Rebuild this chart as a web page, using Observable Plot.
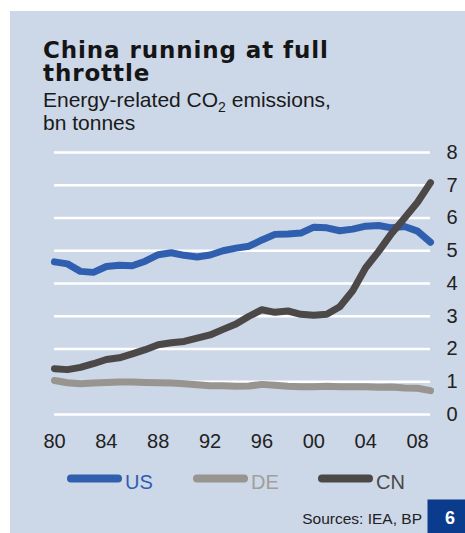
<!DOCTYPE html>
<html>
<head>
<meta charset="utf-8">
<script src="https://cdn.jsdelivr.net/npm/d3@7"></script>
<script src="https://cdn.jsdelivr.net/npm/@observablehq/plot@0.6"></script>
<style>
  html, body { margin: 0; padding: 0; background: #ffffff; }
  #wrap { position: relative; width: 465px; height: 533px; overflow: hidden; }
  #bg { position: absolute; left: 0; top: 0; }
  #title { position: absolute; left: 43px; top: 39.3px; width: 330px;
    font-family: 'DejaVu Sans', sans-serif; font-weight: bold; font-size: 23px;
    letter-spacing: 0.9px; line-height: 22.5px; color: #151515; margin: 0; }
  #chart { position: absolute; left: 10px; top: 140px; }
</style>
</head>
<body>
<div id="wrap">
  <div id="bg"></div>
  <div id="title"></div>
  <div id="chart"></div>
</div>
<script>
// ---- data ----
const years = [1980,1981,1982,1983,1984,1985,1986,1987,1988,1989,
               1990,1991,1992,1993,1994,1995,1996,1997,1998,1999,
               2000,2001,2002,2003,2004,2005,2006,2007,2008,2009];
const usValues = [4.66,4.60,4.37,4.34,4.52,4.56,4.54,4.68,4.88,4.94,
                  4.86,4.81,4.87,5.00,5.08,5.14,5.33,5.50,5.51,5.54,
                  5.72,5.70,5.61,5.66,5.75,5.77,5.70,5.74,5.60,5.26];
const deValues = [1.04,0.97,0.94,0.96,0.98,0.99,0.99,0.98,0.97,0.96,
                  0.94,0.91,0.88,0.88,0.86,0.87,0.92,0.89,0.86,0.85,
                  0.85,0.86,0.85,0.85,0.85,0.83,0.84,0.81,0.80,0.73];
const cnValues = [1.40,1.37,1.44,1.55,1.68,1.73,1.85,1.98,2.13,2.19,
                  2.23,2.33,2.43,2.60,2.76,3.00,3.20,3.12,3.16,3.06,
                  3.03,3.06,3.29,3.78,4.48,4.98,5.53,6.00,6.48,7.08];
const seriesNames = ["US", "DE", "CN"];
const seriesColors = ["#2f5fae", "#98948f", "#4b4847"];
const yTicks = [0,1,2,3,4,5,6,7,8];
const xTicks = [1980,1984,1988,1992,1996,2000,2004,2008];
const titleText = "China running at full throttle";
const subtitleA = "Energy-related CO";
const subtitleSub = "2";
const subtitleB = " emissions,";
const subtitleLine2 = "bn tonnes";
const sourceText = "Sources: IEA, BP";
const pageNumber = "6";

const rowsFor = vals => years.map((y, i) => ({year: y, value: vals[i]}));
const usRows = rowsFor(usValues);
const deRows = rowsFor(deValues);
const cnRows = rowsFor(cnValues);

// ---- background, titles, legend, source ----
const W = 465, H = 533;
const svg = d3.select("#bg").append("svg").attr("width", W).attr("height", H);
svg.append("rect").attr("x", 10).attr("y", 11).attr("width", W - 10).attr("height", H - 11).attr("fill", "#ccd7e8");

document.getElementById("title").textContent = titleText;

const bFont = "'Liberation Sans', Arial, sans-serif";
const sub = svg.append("text").attr("x", 43).attr("y", 106.5)
  .attr("font-family", bFont).attr("font-size", 21).attr("fill", "#1a1a1a");
sub.append("tspan").text(subtitleA);
sub.append("tspan").attr("font-size", 14).attr("dy", 5).text(subtitleSub);
sub.append("tspan").attr("dy", -5).text(subtitleB);
sub.append("tspan").attr("x", 43).attr("dy", 23.5).text(subtitleLine2);

// legend
const legendX = [67, 193, 318];
seriesNames.forEach((name, i) => {
  svg.append("line").attr("x1", legendX[i] + 4).attr("x2", legendX[i] + 51)
    .attr("y1", 478.5).attr("y2", 478.5)
    .attr("stroke", seriesColors[i]).attr("stroke-width", 8).attr("stroke-linecap", "round");
  svg.append("text").attr("x", legendX[i] + 58).attr("y", 488.5)
    .attr("font-family", bFont).attr("font-size", 20)
    .attr("fill", i === 1 ? "#a29f9b" : seriesColors[i]).text(name);
});

// source & page number
svg.append("text").attr("x", 422).attr("y", 524).attr("text-anchor", "end")
  .attr("font-family", bFont).attr("font-size", 15.5).attr("fill", "#222").text(sourceText);
svg.append("rect").attr("x", 427.5).attr("y", 499.5).attr("width", 37.5).attr("height", 33.5).attr("fill", "#0b3b8c");
svg.append("text").attr("x", 450).attr("y", 524).attr("text-anchor", "middle")
  .attr("font-family", bFont).attr("font-weight", "bold").attr("font-size", 18).attr("fill", "#ffffff").text(pageNumber);

// ---- chart ----
const lineOpts = (color) => ({x: "year", y: "value", stroke: color, strokeWidth: 7,
  strokeLinecap: "round", strokeLinejoin: "round", curve: "linear"});

const chart = Plot.plot({
  width: 455,
  height: 330,
  marginLeft: 44,
  marginRight: 35,
  marginTop: 12,
  marginBottom: 56,
  style: {background: "transparent", fontFamily: "'Liberation Sans', Arial, sans-serif", fontSize: "20px", color: "#222"},
  x: {domain: [1980, 2009], label: null},
  y: {domain: [0, 8], label: null},
  marks: [
    Plot.ruleY(yTicks, {y: d => d, x1: 1980, x2: 2009, stroke: "#ffffff", strokeWidth: 2.5}),
    Plot.axisX(xTicks, {tickSize: 0, tickPadding: 19, fontSize: 20, label: null,
      tickFormat: d => String(d).slice(2)}),
    Plot.axisY(yTicks, {anchor: "right", tickSize: 0, tickPadding: 16, fontSize: 20, label: null,
      tickFormat: d => String(d)}),
    Plot.line(usRows, lineOpts(seriesColors[0])),
    Plot.line(deRows, lineOpts(seriesColors[1])),
    Plot.line(cnRows, lineOpts(seriesColors[2]))
  ]
});
document.getElementById("chart").appendChild(chart);
</script>
</body>
</html>
